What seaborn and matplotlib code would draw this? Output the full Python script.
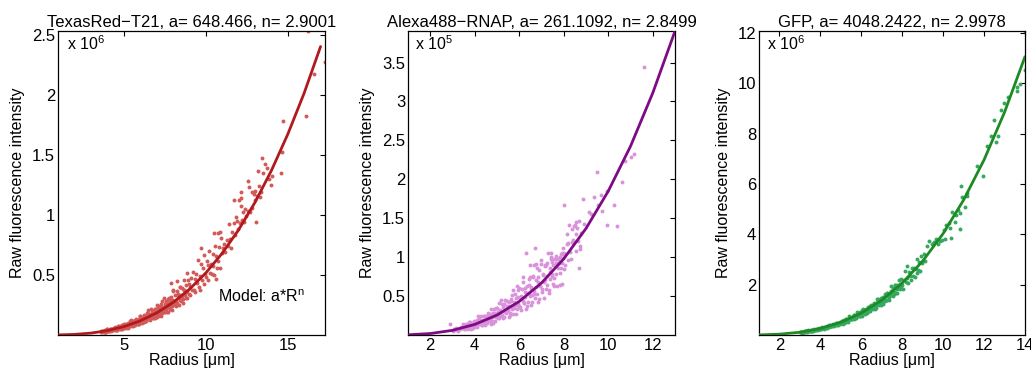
import numpy as np
import pandas as pd
import matplotlib
matplotlib.use("Agg")
import matplotlib.pyplot as plt
import seaborn as sns

sns.set_theme(style="white")
plt.rcParams['font.family'] = ['Liberation Sans', 'DejaVu Sans']
plt.rcParams['mathtext.fontset'] = 'custom'
plt.rcParams['mathtext.rm'] = 'Liberation Sans'
plt.rcParams['mathtext.it'] = 'Liberation Sans:italic'
plt.rcParams['text.color'] = 'black'
plt.rcParams['axes.labelcolor'] = 'black'
plt.rcParams['xtick.color'] = 'black'
plt.rcParams['ytick.color'] = 'black'

# ---------------- data ----------------
titles = ["TexasRed\u2212T21, a= 648.466, n= 2.9001",
          "Alexa488\u2212RNAP, a= 261.1092, n= 2.8499",
          "GFP, a= 4048.2422, n= 2.9978"]
exponents = [6, 5, 6]

# fitted model curves a*R^n (intensity in units of 10^exponent)
tr_fit_r = [1, 2, 3, 4, 5, 6, 7, 8, 9, 10, 11, 12, 13, 14, 15, 16, 17]
tr_fit_v = [0.00065, 0.00484, 0.01569, 0.03613, 0.06902, 0.11713, 0.18312, 0.2697,
            0.3795, 0.5152, 0.6793, 0.8742, 1.1027, 1.3674, 1.6702, 2.0133, 2.4007]
al_fit_r = [1, 2, 3, 4, 5, 6, 7, 8, 9, 10, 11, 12, 13]
al_fit_v = [0.0026, 0.0188, 0.0598, 0.1357, 0.2564, 0.4311, 0.6687, 0.9784,
            1.3685, 1.8476, 2.4241, 3.1083, 3.9033]
gf_fit_r = [1, 2, 3, 4, 5, 6, 7, 8, 9, 10, 11, 12, 13, 14]
gf_fit_v = [0.0040, 0.0323, 0.1090, 0.2583, 0.5042, 0.8712, 1.3825, 2.0626,
            2.9362, 4.0280, 5.3610, 6.9570, 8.8446, 11.051]

# measured cells: (radius in um, intensity in units of 10^exponent)
tr_cells = [
    (3.62, 0.0245), (3.65, 0.0306), (3.68, 0.0224), (3.71, 0.0297), (3.745, 0.0369), (3.775, 0.0274),
    (3.83, 0.0336), (3.86, 0.0274), (3.89, 0.0376), (3.92, 0.0336), (3.95, 0.0269), (3.98, 0.0376),
    (4.01, 0.0499), (4.045, 0.0350), (4.075, 0.0379), (4.13, 0.0349), (4.16, 0.0458), (4.19, 0.0396),
    (4.22, 0.0358), (4.25, 0.0520), (4.28, 0.0383), (4.31, 0.0513), (4.345, 0.0375), (4.375, 0.0459),
    (4.43, 0.0609), (4.46, 0.0452), (4.49, 0.0514), (4.52, 0.0447), (4.55, 0.0615), (4.58, 0.0508),
    (4.61, 0.0434), (4.645, 0.0607), (4.675, 0.0748), (4.73, 0.0560), (4.76, 0.0606), (4.79, 0.0519),
    (4.82, 0.0723), (4.85, 0.0625), (4.88, 0.0527), (4.91, 0.0814), (4.945, 0.0599), (4.975, 0.0749),
    (5.03, 0.0580), (5.06, 0.0711), (5.09, 0.0883), (5.12, 0.0694), (5.15, 0.0789), (5.18, 0.0643),
    (5.21, 0.0935), (5.245, 0.0773), (5.275, 0.0618), (5.33, 0.0915), (5.36, 0.1127), (5.39, 0.0792),
    (5.42, 0.0906), (5.45, 0.0777), (5.48, 0.1018), (5.51, 0.0928), (5.545, 0.0783), (5.575, 0.1138),
    (5.63, 0.0881), (5.66, 0.1102), (5.69, 0.0805), (5.72, 0.1039), (5.75, 0.1292), (5.78, 0.0959),
    (5.81, 0.1146), (5.845, 0.0934), (5.875, 0.1284), (5.93, 0.1115), (5.96, 0.0892), (5.99, 0.1249),
    (6.02, 0.1616), (6.05, 0.1136), (6.08, 0.1230), (6.11, 0.1105), (6.145, 0.1449), (6.175, 0.1253),
    (6.23, 0.1108), (6.26, 0.1610), (6.29, 0.1185), (6.32, 0.1551), (6.35, 0.1133), (6.38, 0.1389),
    (6.41, 0.1807), (6.445, 0.1341), (6.475, 0.1525), (6.53, 0.1300), (6.56, 0.1787), (6.59, 0.1477),
    (6.62, 0.1235), (6.65, 0.1729), (6.68, 0.2131), (6.71, 0.1565), (6.745, 0.1694), (6.775, 0.1452),
    (6.83, 0.1986), (6.86, 0.1717), (6.89, 0.1447), (6.92, 0.2196), (6.95, 0.1616), (6.98, 0.2021),
    (7.01, 0.1538), (7.045, 0.1886), (7.075, 0.2344), (7.13, 0.1813), (7.16, 0.2061), (7.19, 0.1679),
    (7.22, 0.2405), (7.25, 0.1988), (7.28, 0.1590), (7.31, 0.2316), (7.345, 0.2854), (7.375, 0.2006),
    (7.43, 0.2260), (7.46, 0.1937), (7.49, 0.2539), (7.52, 0.2280), (7.55, 0.1922), (7.58, 0.2794),
    (7.61, 0.2138), (7.645, 0.2673), (7.675, 0.1952), (7.73, 0.2486), (7.76, 0.3090), (7.79, 0.2293),
    (7.82, 0.2706), (7.85, 0.2205), (7.88, 0.3032), (7.91, 0.2601), (7.945, 0.2081), (7.975, 0.2913),
    (8.03, 0.3722), (8.06, 0.2616), (8.09, 0.2832), (8.12, 0.2516), (8.15, 0.3299), (8.18, 0.2852),
    (8.21, 0.2491), (8.245, 0.3621), (8.275, 0.2665), (8.33, 0.3452), (8.36, 0.2522), (8.39, 0.3092),
    (8.42, 0.3977), (8.45, 0.2952), (8.48, 0.3356), (8.51, 0.2828), (8.545, 0.3889), (8.575, 0.3214),
    (8.63, 0.2662), (8.66, 0.3726), (8.69, 0.4591), (8.72, 0.3337), (8.75, 0.3612), (8.78, 0.3096),
    (8.81, 0.4197), (8.845, 0.3628), (8.875, 0.3059), (8.93, 0.4594), (8.96, 0.3381), (8.99, 0.4226),
    (7.91, 0.430), (8.25, 0.450), (9.71, 0.720), (10.50, 0.850), (10.90, 0.855), (10.62, 0.470),
    (9.03, 0.398), (9.07, 0.334), (9.12, 0.478), (9.17, 0.372), (9.23, 0.526), (9.27, 0.372),
    (9.32, 0.468), (9.37, 0.355), (9.43, 0.509), (9.47, 0.431), (9.52, 0.622), (9.57, 0.400),
    (9.63, 0.495), (9.67, 0.376), (9.72, 0.590), (9.77, 0.458), (9.83, 0.559), (9.87, 0.428),
    (9.92, 0.666), (9.97, 0.511), (10.03, 0.479), (10.07, 0.618), (10.13, 0.456), (10.17, 0.583),
    (10.22, 0.698), (10.27, 0.518), (10.33, 0.589), (10.37, 0.505), (10.42, 0.675), (10.47, 0.577),
    (10.53, 0.499), (10.57, 0.737), (10.62, 0.659), (10.67, 0.561), (10.73, 0.846), (10.77, 0.615),
    (10.82, 0.729), (10.87, 0.561), (10.93, 0.808), (10.97, 0.682),
    (11.05, 0.72), (11.12, 0.76), (11.20, 0.69), (11.28, 0.79), (11.35, 0.74), (11.42, 0.92),
    (11.50, 0.80), (11.55, 0.72), (11.62, 0.86), (11.70, 0.93), (11.75, 1.125), (11.80, 0.83),
    (11.83, 0.986), (11.90, 0.95), (11.97, 0.88), (12.05, 1.125), (12.10, 0.93), (12.13, 1.07),
    (12.15, 1.14), (12.17, 1.19), (12.22, 0.96), (12.28, 1.02), (12.35, 0.94), (12.40, 1.05),
    (12.48, 0.99), (12.55, 1.03), (12.60, 1.28), (12.64, 1.23), (12.70, 1.02), (12.80, 1.19),
    (12.85, 1.06), (12.92, 1.17), (12.98, 1.20), (13.03, 1.125), (13.05, 0.944), (13.10, 1.16),
    (13.20, 1.367), (13.25, 1.244), (13.30, 1.15), (13.35, 1.19), (13.46, 1.47), (13.47, 1.35),
    (13.60, 1.425), (13.76, 1.39), (13.85, 1.30), (13.95, 1.25), (14.02, 1.32), (14.57, 1.35),
    (14.65, 1.52), (14.74, 1.78), (16.10, 1.825), (16.24, 2.53), (16.60, 2.17), (17.25, 2.275),
]
tr_cells_more = [
    (3.815, 0.0342), (3.845, 0.0264), (3.915, 0.0410), (3.945, 0.0316), (4.015, 0.0487), (4.055, 0.0375),
    (4.115, 0.0318), (4.145, 0.0450), (4.215, 0.0408), (4.255, 0.0532), (4.315, 0.0397), (4.355, 0.0500),
    (4.415, 0.0481), (4.455, 0.0690), (4.515, 0.0462), (4.555, 0.0605), (4.615, 0.0455), (4.655, 0.0580),
    (4.715, 0.0721), (4.755, 0.0554), (4.815, 0.0674), (4.855, 0.0521), (4.915, 0.0794), (4.955, 0.0612),
    (5.015, 0.0932), (5.055, 0.0718), (5.115, 0.0599), (5.155, 0.0848), (5.215, 0.0758), (5.255, 0.0989),
    (5.315, 0.0727), (5.355, 0.0915), (5.415, 0.0872), (5.455, 0.1251), (5.515, 0.0828), (5.555, 0.1083),
    (5.615, 0.0805), (5.655, 0.1025), (5.715, 0.1261), (5.755, 0.0969), (5.815, 0.1167), (5.855, 0.0902),
    (5.915, 0.1360), (5.955, 0.1048), (6.015, 0.1581), (6.055, 0.1218), (6.115, 0.1007), (6.155, 0.1424),
    (6.215, 0.1262), (6.255, 0.1649), (6.315, 0.1201), (6.355, 0.1511), (6.415, 0.1426), (6.455, 0.2047),
    (6.515, 0.1344), (6.555, 0.1758), (6.615, 0.1297), (6.655, 0.1652), (6.715, 0.2016), (6.755, 0.1548),
    (6.815, 0.1851), (6.855, 0.1431), (6.915, 0.2144), (6.955, 0.1652), (7.015, 0.2472), (7.055, 0.1904),
    (7.115, 0.1565), (7.155, 0.2213), (7.215, 0.1948), (7.255, 0.2545), (7.315, 0.1841), (7.355, 0.2316),
    (7.415, 0.2174), (7.455, 0.3120), (7.515, 0.2034), (7.555, 0.2660), (7.615, 0.1952), (7.655, 0.2487),
    (7.715, 0.3018), (7.755, 0.2317), (7.815, 0.2757), (7.855, 0.2130), (7.915, 0.3173), (7.955, 0.2445),
    (8.015, 0.3641), (8.055, 0.2805), (8.215, 0.2376), (8.255, 0.3361), (8.415, 0.3045), (8.455, 0.3977),
    (8.615, 0.2961), (8.655, 0.3726), (8.815, 0.3593), (8.855, 0.5158),
]

al_cells = [
    (3.03, 0.051), (3.07, 0.075), (3.13, 0.069), (3.17, 0.095), (3.23, 0.051), (3.27, 0.082),
    (3.33, 0.074), (3.37, 0.105), (3.43, 0.085), (3.47, 0.136), (2.88, 0.140),
    (3.52, 0.074), (3.55, 0.111), (3.58, 0.084), (3.61, 0.140), (3.645, 0.110), (3.675, 0.075),
    (3.73, 0.140), (3.76, 0.106), (3.79, 0.162), (3.82, 0.103), (3.85, 0.138), (3.88, 0.119),
    (3.91, 0.086), (3.945, 0.161), (3.975, 0.107), (4.03, 0.170), (4.06, 0.142), (4.09, 0.197),
    (4.12, 0.104), (4.15, 0.167), (4.18, 0.138), (4.21, 0.210), (4.245, 0.155), (4.275, 0.248),
    (4.33, 0.133), (4.36, 0.199), (4.39, 0.149), (4.42, 0.249), (4.45, 0.195), (4.48, 0.133),
    (4.51, 0.247), (4.545, 0.186), (4.575, 0.285), (4.63, 0.177), (4.66, 0.238), (4.69, 0.206),
    (4.72, 0.146), (4.75, 0.274), (4.78, 0.182), (4.81, 0.284), (4.845, 0.239), (4.875, 0.330),
    (4.93, 0.174), (4.96, 0.278), (4.99, 0.229), (5.02, 0.346), (5.05, 0.256), (5.08, 0.410),
    (5.11, 0.217), (5.145, 0.325), (5.175, 0.244), (5.23, 0.400), (5.26, 0.314), (5.29, 0.214),
    (5.32, 0.392), (5.35, 0.296), (5.38, 0.453), (5.41, 0.280), (5.445, 0.376), (5.475, 0.325),
    (5.53, 0.229), (5.56, 0.430), (5.59, 0.286), (5.62, 0.442), (5.65, 0.371), (5.68, 0.512),
    (5.71, 0.267), (5.745, 0.427), (5.775, 0.353), (5.83, 0.527), (5.86, 0.390), (5.89, 0.624),
    (5.92, 0.328), (5.95, 0.492), (5.98, 0.369), (6.01, 0.604), (6.045, 0.474), (6.075, 0.323),
    (6.13, 0.587), (6.16, 0.442), (6.19, 0.677), (6.22, 0.416), (6.25, 0.557), (6.28, 0.482),
    (6.31, 0.336), (6.345, 0.633), (6.375, 0.420), (6.43, 0.647), (6.46, 0.543), (6.49, 0.750),
    (6.52, 0.390), (6.55, 0.623), (6.58, 0.515), (6.61, 0.763), (6.645, 0.565), (6.675, 0.904),
    (6.73, 0.471), (6.76, 0.707), (6.79, 0.530), (6.82, 0.861), (6.85, 0.676), (6.88, 0.461),
    (6.91, 0.834), (6.945, 0.628), (6.975, 0.962), (7.03, 0.588), (7.06, 0.789), (7.09, 0.682),
    (7.12, 0.473), (7.15, 0.890), (7.18, 0.591), (7.21, 0.904), (7.245, 0.760), (7.275, 1.049),
    (7.33, 0.542), (7.36, 0.865), (7.39, 0.715), (7.42, 1.057), (7.45, 0.783), (7.48, 0.940),
    (7.51, 0.652), (7.545, 0.977), (7.575, 0.733), (7.63, 0.972), (7.66, 0.929), (7.69, 0.634),
    (7.72, 0.982), (7.75, 0.859), (7.78, 0.920), (7.81, 0.800), (7.845, 1.000), (7.875, 0.864),
    (7.93, 0.660), (7.96, 0.990), (7.99, 0.849), (8.03, 1.056), (8.07, 0.900), (8.13, 1.165),
    (8.17, 0.962), (8.23, 1.416), (8.27, 1.070), (8.33, 0.977), (8.37, 1.195), (8.43, 1.180),
    (8.47, 1.405), (8.53, 1.082), (8.57, 1.303), (8.63, 1.204), (8.67, 0.867), (8.73, 1.146),
    (8.77, 1.308), (6.29, 1.055), (6.71, 1.120), (7.44, 1.000), (6.50, 0.900), (8.50, 1.410),
    (8.00, 1.670), (8.55, 1.450), (8.70, 1.470), (8.90, 1.430), (8.15, 1.300), (8.35, 1.360),
    (8.60, 1.380), (7.95, 1.120), (8.20, 1.180), (8.40, 1.220), (8.75, 1.100), (7.90, 1.050),
    (8.86, 1.750), (9.36, 1.770), (9.69, 1.800), (9.94, 1.850), (9.13, 1.580), (9.24, 1.550),
    (9.55, 1.670), (9.72, 1.590), (10.24, 1.670), (9.96, 1.410), (10.41, 1.400), (10.60, 1.970),
    (10.77, 2.240), (11.04, 2.290), (11.14, 2.320), (9.51, 2.090), (11.60, 3.440),
]
al_cells_more = [
    (3.535, 0.102), (3.565, 0.072), (3.635, 0.132), (3.665, 0.093), (3.735, 0.167), (3.765, 0.113),
    (3.835, 0.082), (3.865, 0.142), (3.935, 0.123), (3.965, 0.179), (4.035, 0.113), (4.065, 0.156),
    (4.135, 0.148), (4.165, 0.239), (4.235, 0.137), (4.265, 0.197), (4.335, 0.126), (4.365, 0.179),
    (4.435, 0.245), (4.465, 0.170), (4.535, 0.209), (4.565, 0.148), (4.635, 0.266), (4.665, 0.188),
    (4.735, 0.332), (4.765, 0.225), (4.835, 0.159), (4.865, 0.277), (4.935, 0.237), (4.965, 0.343),
    (5.035, 0.213), (5.065, 0.295), (5.135, 0.276), (5.165, 0.447), (5.235, 0.252), (5.265, 0.363),
    (5.335, 0.229), (5.365, 0.326), (5.435, 0.440), (5.465, 0.306), (5.535, 0.370), (5.565, 0.262),
    (5.635, 0.466), (5.665, 0.329), (5.735, 0.576), (5.765, 0.390), (5.835, 0.273), (5.865, 0.476),
    (5.935, 0.402), (5.965, 0.582), (6.035, 0.358), (6.065, 0.496), (6.135, 0.460), (6.165, 0.744),
    (6.235, 0.416), (6.265, 0.600), (6.335, 0.376), (6.365, 0.534), (6.435, 0.714), (6.465, 0.497),
    (6.535, 0.596), (6.565, 0.422), (6.635, 0.746), (6.665, 0.525), (6.735, 0.913), (6.765, 0.619),
    (6.835, 0.430), (6.865, 0.750), (6.935, 0.628), (6.965, 0.910), (7.035, 0.555), (7.065, 0.769),
    (7.135, 0.710), (7.165, 0.904), (7.235, 0.637), (7.265, 0.919), (7.335, 0.572), (7.365, 0.813),
    (7.435, 0.979), (7.465, 0.752), (7.535, 0.896), (7.565, 0.635), (7.635, 1.014), (7.665, 0.786),
    (7.735, 0.982), (7.765, 0.920), (7.835, 0.637), (7.865, 1.046), (7.935, 0.924), (7.965, 1.038),
]

gf_cells = [
    (3.02, 0.103), (3.05, 0.118), (3.08, 0.098), (3.11, 0.124), (3.145, 0.137), (3.175, 0.117),
    (3.23, 0.140), (3.26, 0.122), (3.29, 0.147), (3.32, 0.145), (3.35, 0.127), (3.38, 0.152),
    (3.41, 0.187), (3.445, 0.155), (3.475, 0.162), (3.53, 0.161), (3.56, 0.188), (3.59, 0.175),
    (3.62, 0.171), (3.65, 0.211), (3.68, 0.179), (3.71, 0.220), (3.745, 0.184), (3.775, 0.210),
    (3.83, 0.252), (3.86, 0.214), (3.89, 0.234), (3.92, 0.220), (3.95, 0.265), (3.98, 0.239),
    (4.01, 0.227), (4.045, 0.271), (4.075, 0.304), (4.13, 0.272), (4.16, 0.283), (4.19, 0.258),
    (4.22, 0.325), (4.25, 0.302), (4.28, 0.272), (4.31, 0.359), (4.345, 0.304), (4.375, 0.346),
    (4.43, 0.309), (4.46, 0.354), (4.49, 0.391), (4.52, 0.356), (4.55, 0.389), (4.58, 0.338),
    (4.61, 0.435), (4.645, 0.392), (4.675, 0.345), (4.73, 0.439), (4.76, 0.494), (4.79, 0.410),
    (4.82, 0.455), (4.85, 0.415), (4.88, 0.486), (4.91, 0.479), (4.945, 0.431), (4.975, 0.531),
    (5.03, 0.479), (5.06, 0.544), (5.09, 0.453), (5.12, 0.551), (5.15, 0.609), (5.18, 0.519),
    (5.21, 0.601), (5.245, 0.521), (5.275, 0.629), (5.33, 0.600), (5.36, 0.528), (5.39, 0.630),
    (5.42, 0.749), (5.45, 0.622), (5.48, 0.647), (5.51, 0.624), (5.545, 0.731), (5.575, 0.677),
    (5.63, 0.644), (5.66, 0.793), (5.69, 0.672), (5.72, 0.806), (5.75, 0.672), (5.78, 0.769),
    (5.81, 0.896), (5.845, 0.763), (5.875, 0.833), (5.93, 0.761), (5.96, 0.919), (5.99, 0.828),
    (6.02, 0.766), (6.05, 0.914), (6.08, 1.027), (6.11, 0.897), (6.145, 0.933), (6.175, 0.851),
    (6.23, 1.047), (6.26, 0.970), (6.29, 0.874), (6.32, 1.129), (6.35, 0.957), (6.38, 1.088),
    (6.41, 0.951), (6.445, 1.088), (6.475, 1.204), (6.53, 1.073), (6.56, 1.173), (6.59, 1.018),
    (6.62, 1.286), (6.65, 1.159), (6.68, 1.020), (6.71, 1.273), (6.745, 1.430), (6.775, 1.188),
    (6.83, 1.293), (6.86, 1.178), (6.89, 1.381), (6.92, 1.337), (6.95, 1.205), (6.98, 1.483),
    (7.01, 1.313), (7.045, 1.493), (7.075, 1.244), (7.13, 1.486), (7.16, 1.644), (7.19, 1.399),
    (7.22, 1.594), (7.25, 1.384), (7.28, 1.670), (7.31, 1.568), (7.345, 1.380), (7.375, 1.646),
    (7.43, 1.927), (7.46, 1.600), (7.49, 1.666), (7.52, 1.581), (7.55, 1.853), (7.58, 1.717),
    (7.61, 1.610), (7.645, 1.981), (7.675, 1.681), (7.73, 1.987), (7.76, 1.656), (7.79, 1.895),
    (7.82, 2.180), (7.85, 1.855), (7.88, 2.027), (7.91, 1.828), (7.945, 2.205), (7.975, 1.987),
    (8.03, 1.816), (8.07, 2.167), (8.13, 2.527), (8.17, 2.099), (8.23, 2.266), (8.27, 2.066),
    (8.33, 2.512), (8.37, 2.327), (8.43, 2.174), (8.47, 2.675), (8.53, 2.351), (8.57, 2.673),
    (8.63, 2.307), (8.67, 2.640), (8.73, 3.025), (8.77, 2.574), (8.83, 2.911), (8.87, 2.527),
    (8.93, 3.154), (8.97, 2.841), (8.24, 2.730), (8.73, 2.460), (9.05, 3.200), (9.12, 2.950),
    (9.20, 3.550), (9.30, 3.750), (9.45, 3.620), (9.55, 3.680), (9.65, 3.800), (9.75, 3.600),
    (9.85, 3.720), (9.95, 3.780), (10.07, 3.810), (10.40, 3.850), (10.05, 4.150), (10.15, 4.350),
    (10.30, 4.450), (10.35, 4.250), (10.60, 4.500), (10.80, 4.200), (10.45, 4.900), (10.62, 4.780),
    (10.72, 4.950), (10.80, 4.850), (11.09, 5.100), (10.94, 5.460), (11.18, 5.500), (11.16, 5.650),
    (10.87, 5.900), (11.65, 6.700), (11.94, 6.330), (12.16, 7.490), (12.33, 7.890), (12.67, 7.890),
    (12.58, 7.650), (12.49, 8.550), (12.83, 8.940), (12.97, 9.230), (13.17, 9.450), (13.62, 9.850),
    (13.63, 9.700), (13.78, 9.980), (14.00, 12.07), (14.00, 10.53),
]
gf_cells_more = [
    (3.035, 0.113), (3.135, 0.113), (3.235, 0.145), (3.335, 0.140), (3.435, 0.169), (3.535, 0.156),
    (3.635, 0.212), (3.735, 0.202), (3.835, 0.230), (3.935, 0.225), (4.035, 0.284), (4.135, 0.269),
    (4.235, 0.320), (4.335, 0.288), (4.435, 0.388), (4.535, 0.364), (4.635, 0.408), (4.735, 0.393),
    (4.835, 0.490), (4.935, 0.460), (5.035, 0.539), (5.135, 0.481), (5.235, 0.640), (5.335, 0.594),
    (5.435, 0.660), (5.535, 0.630), (5.635, 0.778), (5.735, 0.724), (5.835, 0.841), (5.935, 0.745),
    (6.035, 0.984), (6.135, 0.906), (6.235, 0.999), (6.335, 0.947), (6.435, 1.162), (6.535, 1.073),
    (6.635, 1.240), (6.735, 1.091), (6.835, 1.432), (6.935, 1.311), (7.035, 1.438), (7.135, 1.356),
    (7.235, 1.655), (7.335, 1.521), (7.435, 1.747), (7.535, 1.530), (7.635, 1.999), (7.735, 1.821),
    (7.835, 1.989), (7.935, 1.868),
]

# ---------------- figure ----------------
panels = [
    dict(cells=tr_cells + tr_cells_more, fr=tr_fit_r, fv=tr_fit_v, pc="#d25a58", lc="#b0191e",
         xlim=(1, 17.27), ylim=(0, 2.53), xt=[5, 10, 15], yt=[0.5, 1, 1.5, 2, 2.5], ox=0.034),
    dict(cells=al_cells + al_cells_more, fr=al_fit_r, fv=al_fit_v, pc="#d993da", lc="#7e0a84",
         xlim=(1, 13), ylim=(0, 3.905), xt=[2, 4, 6, 8, 10, 12], yt=[0.5, 1, 1.5, 2, 2.5, 3, 3.5], ox=0.026),
    dict(cells=gf_cells + gf_cells_more, fr=gf_fit_r, fv=gf_fit_v, pc="#36a860", lc="#1d8a24",
         xlim=(1, 14.0), ylim=(0, 12.07), xt=[2, 4, 6, 8, 10, 12, 14], yt=[2, 4, 6, 8, 10, 12], ox=0.03),
]

W, H = 1031, 374
fig = plt.figure(figsize=(W / 100, H / 100), dpi=100)
lefts = [58, 408, 759]
widths = [267, 267, 266]
bottom_px, top_px = 335, 31
FS = 12

for i, p in enumerate(panels):
    ax = fig.add_axes([lefts[i] / W, 1 - bottom_px / H, widths[i] / W, (bottom_px - top_px) / H])
    df = pd.DataFrame(p["cells"], columns=["r", "v"])
    sns.scatterplot(data=df, x="r", y="v", ax=ax, color=p["pc"], s=8, marker="o",
                    linewidth=0, legend=False, zorder=2)
    fit = pd.DataFrame({"r": p["fr"], "v": p["fv"]})
    sns.lineplot(data=fit, x="r", y="v", ax=ax, color=p["lc"], linewidth=2.0,
                 estimator=None, sort=False, zorder=3)
    ax.set_xlim(*p["xlim"])
    ax.set_ylim(*p["ylim"])
    ax.set_xticks(p["xt"])
    ax.set_yticks(p["yt"])
    ax.set_xticklabels([f"{t:g}" for t in p["xt"]])
    ax.set_yticklabels([f"{t:g}" for t in p["yt"]])
    ax.tick_params(direction="in", length=3.5, width=0.8, top=True, right=True,
                   labelsize=FS, pad=2, colors="black")
    for s in ax.spines.values():
        s.set_visible(True)
        s.set_color("black")
        s.set_linewidth(0.9)
    ax.set_xlabel("Radius [\u03bcm]", fontsize=11.5, labelpad=0, color="black")
    ax.set_ylabel("Raw fluorescence intensity", fontsize=11.5, labelpad=5, color="black")
    ax.set_title(titles[i], fontsize=FS, pad=3, color="black")
    ax.text(p["ox"], 0.9375, r"x 10$^{\mathrm{%d}}$" % exponents[i], transform=ax.transAxes,
            ha="left", va="baseline", fontsize=11.5, color="black")
    if i == 0:
        ax.text(0.6, 0.11, r"Model: a*R$^{\mathrm{n}}$", transform=ax.transAxes,
                ha="left", va="baseline", fontsize=11.5, color="black")

fig.savefig("out.png", dpi=100)
